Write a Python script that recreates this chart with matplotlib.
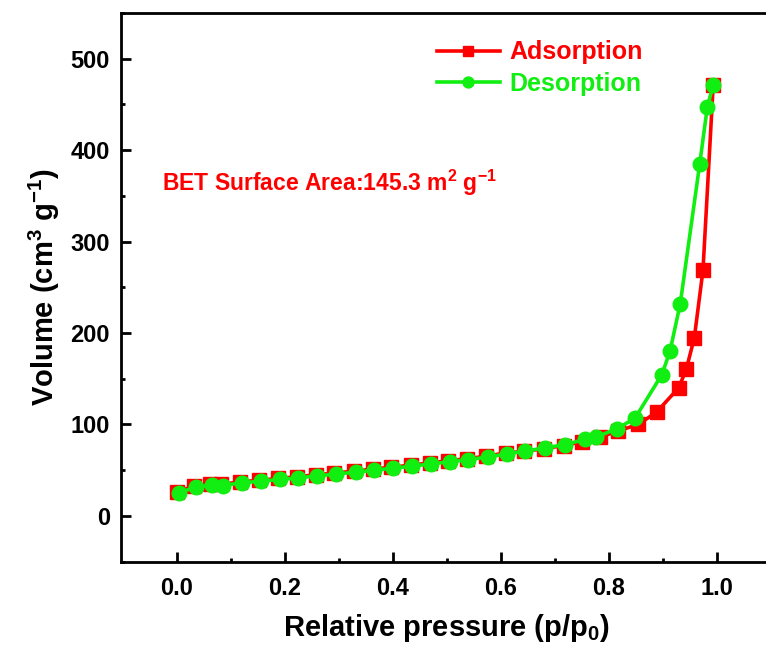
import numpy as np
import matplotlib
matplotlib.use("Agg")
import matplotlib.pyplot as plt

#----------------------------------------------------------
# Data (read off the isotherm)
#----------------------------------------------------------
ads_p = [0.001, 0.032, 0.062, 0.082, 0.118, 0.153, 0.188, 0.222, 0.257, 0.292,
         0.328, 0.363, 0.397, 0.433, 0.468, 0.502, 0.537, 0.573, 0.609, 0.643,
         0.679, 0.716, 0.750, 0.783, 0.817, 0.854, 0.888, 0.929, 0.943, 0.958,
         0.974, 0.993]
ads_v = [26.5, 32.5, 34.8, 34.5, 37.3, 39.0, 41.0, 42.8, 45.0, 46.8,
         49.0, 51.2, 53.3, 55.5, 58.0, 60.2, 62.7, 65.3, 69.0, 70.5,
         73.5, 77.0, 81.0, 86.0, 93.0, 100.0, 113.4, 140.1, 160.1, 194.8,
         268.6, 471.6]

des_p = [0.004, 0.035, 0.065, 0.085, 0.121, 0.156, 0.191, 0.225, 0.260, 0.295,
         0.331, 0.366, 0.400, 0.436, 0.471, 0.505, 0.540, 0.576, 0.612, 0.645,
         0.682, 0.719, 0.755, 0.776, 0.814, 0.848, 0.898, 0.913, 0.932, 0.968,
         0.982, 0.993]
des_v = [25.4, 31.5, 33.7, 33.3, 36.3, 38.0, 39.9, 41.7, 43.9, 45.7,
         47.9, 50.1, 52.2, 54.4, 57.0, 59.2, 61.7, 64.3, 68.0, 70.8,
         74.5, 78.1, 83.6, 86.1, 95.3, 106.6, 154.6, 180.1, 232.2, 384.9,
         446.8, 471.6]

x_ticks = [0.0, 0.2, 0.4, 0.6, 0.8, 1.0]
y_ticks = [0, 100, 200, 300, 400, 500]

RED = "#FF0000"
GREEN = "#11EE11"

#----------------------------------------------------------
# Style
#----------------------------------------------------------
plt.rcParams["font.family"] = ["Liberation Sans", "DejaVu Sans"]
plt.rcParams["font.weight"] = "bold"
plt.rcParams["axes.labelweight"] = "bold"
plt.rcParams["mathtext.fontset"] = "custom"
plt.rcParams["mathtext.rm"] = "Liberation Sans:bold"
plt.rcParams["mathtext.it"] = "Liberation Sans:bold"
plt.rcParams["mathtext.bf"] = "Liberation Sans:bold"
plt.rcParams["mathtext.default"] = "rm"


#----------------------------------------------------------
# Plot
#----------------------------------------------------------
def PlotIsotherm():

    fig = plt.figure(figsize=(7.66, 6.53), dpi=100)
    ax = fig.add_axes([0.158, 0.1398, 0.8486, 0.8406])

    ax.plot(ads_p, ads_v, color=RED, lw=2.6, marker="s", ms=9.5,
            label="Adsorption", zorder=3)
    ax.plot(des_p, des_v, color=GREEN, lw=2.6, marker="o", ms=10.5,
            label="Desorption", zorder=4)

    ax.set_xlim(-0.103, 1.1)
    ax.set_ylim(-50, 550)

    ax.set_xticks(x_ticks)
    ax.set_xticklabels(["%.1f" % v for v in x_ticks])
    ax.set_xticks(np.arange(0.1, 1.0, 0.2), minor=True)
    ax.set_yticks(y_ticks)
    ax.set_yticks(np.arange(-50, 551, 100), minor=True)

    for s in ax.spines.values():
        s.set_linewidth(2.0)

    ax.tick_params(which="major", direction="in", length=7, width=2,
                   labelsize=17, top=False, right=False)
    ax.tick_params(which="minor", direction="in", length=3, width=2,
                   top=False, right=False)
    ax.tick_params(axis="x", which="major", pad=11)
    ax.tick_params(axis="y", which="major", pad=8)

    ax.set_xlabel("Relative pressure (p/p$_0$)", fontsize=21, labelpad=9)
    ax.set_ylabel("Volume (cm$^3$ g$^{-1}$)", fontsize=21, labelpad=6)

    ax.text(-0.028, 364, "BET Surface Area:145.3 m$^2$ g$^{-1}$",
            color=RED, fontsize=16.5, va="center", ha="left")

    leg = ax.legend(loc="center left", bbox_to_anchor=(437 / 766, 1 - 68 / 653),
                    bbox_transform=fig.transFigure, frameon=False,
                    fontsize=18, handlelength=2.5, handletextpad=0.4,
                    labelspacing=0.28, borderpad=0, borderaxespad=0,
                    markerscale=0.75)
    for t, c in zip(leg.get_texts(), [RED, GREEN]):
        t.set_color(c)

    fig.savefig("out.png", dpi=100)


#----------------------------------------------------------
def main():
    PlotIsotherm()


if __name__ == "__main__":
    main()
